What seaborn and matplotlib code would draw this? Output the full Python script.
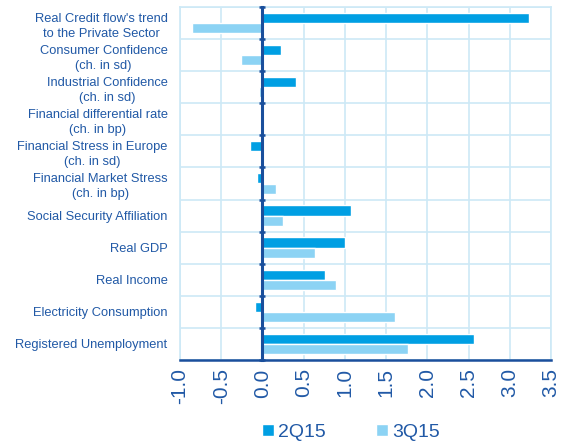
import numpy as np
import pandas as pd
import matplotlib
matplotlib.use("Agg")
import matplotlib.pyplot as plt
import seaborn as sns

categories = [
    "Real Credit flow's trend\nto the Private Sector",
    "Consumer Confidence\n(ch. in sd)",
    "Industrial Confidence\n(ch. in sd)",
    "Financial differential rate\n(ch. in bp)",
    "Financial Stress in Europe\n(ch. in sd)",
    "Financial Market Stress\n(ch. in bp)",
    "Social Security Affiliation",
    "Real GDP",
    "Real Income",
    "Electricity Consumption",
    "Registered Unemployment",
]
q2_15 = [3.23, 0.22, 0.41, 0.01, -0.15, -0.06, 1.08, 1.00, 0.76, -0.09, 2.57]
q3_15 = [-0.85, -0.26, -0.04, 0.0, 0.0, 0.16, 0.25, 0.64, 0.89, 1.61, 1.77]
series = ["2Q15", "3Q15"]
xticks = [-1.0, -0.5, 0.0, 0.5, 1.0, 1.5, 2.0, 2.5, 3.0, 3.5]

df = pd.DataFrame({
    "category": categories * 2,
    "value": q2_15 + q3_15,
    "series": [series[0]] * len(categories) + [series[1]] * len(categories),
})

sns.set_style("white")
plt.rcParams["font.family"] = ["Liberation Sans", "DejaVu Sans"]

text_col = "#2159a6"
axis_col = "#1a4f9c"
grid_col = "#cde9f6"

fig = plt.figure(figsize=(5.68, 4.45), dpi=100)
ax = fig.add_axes([180 / 568, 1 - 360 / 445, 371 / 568, 353 / 445])

sns.barplot(data=df, y="category", x="value", hue="series", orient="h",
            palette=["#009fe3", "#8cd3f4"], saturation=1, width=0.64,
            ax=ax, legend=True)

ax.set_xlim(-1.0, 3.5)
ax.set_ylim(len(categories) - 0.5, -0.5)
ax.set_xticks(xticks)
ax.set_xticklabels([f"{t:.1f}" for t in xticks], rotation=90, fontsize=15,
                   color=text_col)
ax.set_yticks(range(len(categories)))
ax.set_yticklabels(categories, fontsize=9.3, color=text_col, ha="right",
                   multialignment="center", linespacing=1.35)
ax.set_yticks(np.arange(-0.5, len(categories), 1), minor=True)
ax.tick_params(axis="y", which="both", length=0, pad=9)
ax.tick_params(axis="x", length=6, width=1.4, color=axis_col,
               direction="inout", pad=3)
ax.set_xlabel("")
ax.set_ylabel("")

ax.grid(True, axis="x", color=grid_col, lw=1.2)
ax.grid(True, axis="y", which="minor", color=grid_col, lw=1.2)
ax.set_axisbelow(True)
for s in ["top", "right", "left"]:
    ax.spines[s].set_color(grid_col)
    ax.spines[s].set_linewidth(1.2)
ax.spines["bottom"].set_color(axis_col)
ax.spines["bottom"].set_linewidth(1.8)

# zero line with its own ticks at the category boundaries
zero = ax.secondary_yaxis((0 - xticks[0]) / (xticks[-1] - xticks[0]))
zero.set_zorder(5)
zero.set_yticks(np.arange(-0.5, len(categories), 1))
zero.set_yticklabels([])
zero.spines["left"].set_visible(True)
zero.spines["left"].set_color(axis_col)
zero.spines["left"].set_linewidth(2.2)
zero.tick_params(axis="y", length=5, width=1.8, color=axis_col,
                 direction="inout")

leg = ax.legend(loc="center", bbox_to_anchor=(0.461, -0.205), ncol=2,
                frameon=False, fontsize=14, handlelength=0.6,
                handleheight=0.6, handletextpad=0.2, columnspacing=2.6)
for t in leg.get_texts():
    t.set_color(text_col)

fig.savefig("out.png", dpi=100)
